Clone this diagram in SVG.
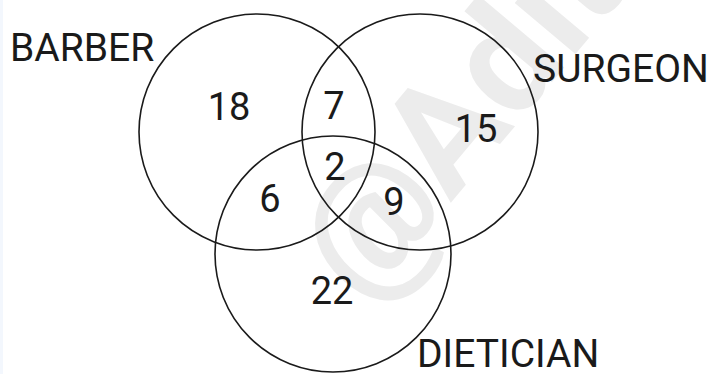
<svg xmlns="http://www.w3.org/2000/svg" width="713" height="374" viewBox="0 0 713 374">
<style>
.set{fill:none;stroke:#1a1a1a;stroke-width:1.6}
.lbl{font-family:Roboto,"Liberation Sans",sans-serif;font-size:39px;fill:#1a1a1a}
.num{font-family:Roboto,"Liberation Sans",sans-serif;font-size:38px;fill:#1a1a1a;text-anchor:middle}
.wm{font-family:Roboto,"Liberation Sans",sans-serif;font-size:150px;font-weight:bold;fill:#ececec}
</style>
<rect width="713" height="374" fill="#ffffff"/>
<rect width="3" height="374" fill="#f3f7fd"/>
<text class="wm" transform="translate(364,306) rotate(-50)">@Adit</text>
<g id="barber">
<circle class="set" cx="257" cy="132" r="118"/>
<text class="lbl" x="10" y="61">BARBER</text>
</g>
<g id="surgeon">
<circle class="set" cx="420" cy="132" r="118"/>
<text class="lbl" x="533" y="82">SURGEON</text>
</g>
<g id="dietician">
<circle class="set" cx="333" cy="254" r="118"/>
<text class="lbl" x="417" y="367">DIETICIAN</text>
</g>
<g id="regions">
<text class="num" x="229" y="120">18</text>
<text class="num" x="334" y="119">7</text>
<text class="num" x="335" y="180">2</text>
<text class="num" x="476" y="142">15</text>
<text class="num" x="270" y="212">6</text>
<text class="num" x="394" y="215">9</text>
<text class="num" x="332" y="304">22</text>
</g>
</svg>
